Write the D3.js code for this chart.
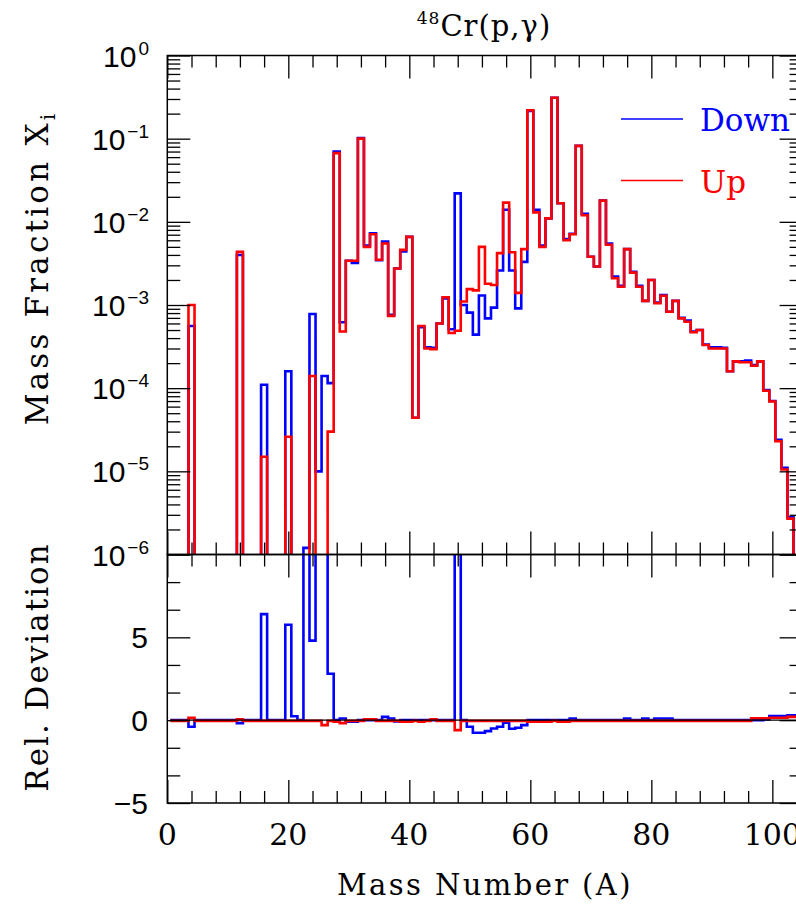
<!DOCTYPE html>
<html>
<head>
<meta charset="utf-8">
<script src="https://cdn.jsdelivr.net/npm/d3@7"></script>
<style>
body { margin: 0; background: #fff; }
svg { display: block; }
</style>
</head>
<body>
<div id="chart"></div>
<script>
// mass numbers A = 1..104, one bin per A
const massNumbers = d3.range(1, 105);

// mass fractions, null = not produced / below the plot
const downX = [
	null, null, null, 5.6e-4, null, null, null, null, null, null,
	null, 4.0e-3, null, null, null, 1.1e-4, null, null, null, 1.6e-4,
	null, null, 1.2e-6, 7.8e-4, 1.0e-5, 1.4e-4, 1.15e-4, 7.0e-2, 6.2e-4, 3.4e-3,
	3.2e-3, 0.102, 5.2e-3, 7.3e-3, 3.45e-3, 5.8e-3, 7.6e-4, 2.75e-3, 4.4e-3, 6.6e-3,
	4.4e-5, 5.4e-4, 3.1e-4, 3.05e-4, 6.0e-4, 1.2e-3, 5.1e-4, 2.2e-2, 1.0e-3, 8.1e-4,
	4.4e-4, 1.3e-3, 6.9e-4, 9.3e-4, 2.6e-3, 1.4e-2, 2.6e-3, 9.1e-4, 3.3e-3, 0.215,
	1.4e-2, 5.2e-3, 1.1e-2, 0.31, 1.67e-2, 6.2e-3, 7.2e-3, 8.2e-2, 1.25e-2, 3.8e-3,
	2.9e-3, 1.8e-2, 5.5e-3, 2.2e-3, 1.7e-3, 4.7e-3, 2.5e-3, 1.7e-3, 1.12e-3, 2.0e-3,
	1.07e-3, 1.32e-3, 8.3e-4, 1.12e-3, 7.0e-4, 6.5e-4, 4.8e-4, 5.0e-4, 3.35e-4, 3.1e-4,
	3.1e-4, 3.05e-4, 1.6e-4, 2.1e-4, 2.1e-4, 2.15e-4, 1.9e-4, 2.1e-4, 9.5e-5, 7.0e-5,
	2.4e-5, 1.1e-5, 2.8e-6, 6e-7
];

const upX = [
	null, null, null, 1.0e-3, null, null, null, null, null, null,
	null, 4.35e-3, null, null, null, 1.5e-5, null, null, null, 2.6e-5,
	null, null, null, 1.4e-4, null, null, 3.0e-5, 6.7e-2, 4.8e-4, 3.4e-3,
	3.4e-3, 0.10, 5.0e-3, 7.1e-3, 3.5e-3, 5.5e-3, 7.4e-4, 2.75e-3, 4.6e-3, 6.6e-3,
	4.4e-5, 5.6e-4, 3.0e-4, 2.95e-4, 6.0e-4, 1.24e-3, 4.6e-4, 4.9e-4, 1.1e-3, 1.55e-3,
	1.5e-3, 5.0e-3, 1.8e-3, 1.74e-3, 4.2e-3, 1.7e-2, 4.3e-3, 1.4e-3, 4.7e-3, 0.22,
	1.3e-2, 5.0e-3, 1.1e-2, 0.31, 1.67e-2, 6.0e-3, 7.1e-3, 8.2e-2, 1.2e-2, 3.8e-3,
	2.9e-3, 1.8e-2, 5.3e-3, 2.1e-3, 1.66e-3, 4.7e-3, 2.45e-3, 1.66e-3, 1.12e-3, 2.0e-3,
	1.05e-3, 1.29e-3, 8.3e-4, 1.12e-3, 6.9e-4, 6.3e-4, 4.7e-4, 5.0e-4, 3.3e-4, 3.0e-4,
	3.0e-4, 3.0e-4, 1.6e-4, 2.1e-4, 2.05e-4, 2.05e-4, 1.86e-4, 2.1e-4, 9.3e-5, 6.9e-5,
	2.3e-5, 1.05e-5, 2.7e-6, 5e-7
];

// relative deviation from the base run (off-scale peaks read as 50)
const devDown = [
	0, 0, 0, -0.4, 0, 0, 0, 0, 0, 0,
	0, -0.18, 0, 0, 0, 6.4, 0, 0, 0, 5.76,
	0.24, 0, 50, 4.8, 50, 50, 2.8, 0, 0.1, -0.1,
	-0.1, 0, 0, 0, 0, 0.2, 0.1, -0.07, 0, 0,
	0, 0, 0, 0, 0, 0, 0, 50, 0, -0.4,
	-0.76, -0.76, -0.66, -0.5, -0.4, -0.16, -0.52, -0.46, -0.3, 0,
	0, 0, 0, 0, 0, 0, 0.1, 0, 0, 0,
	0, 0, 0, 0, 0, 0.1, 0, 0, 0.1, 0,
	0.1, 0.1, 0.1, 0, 0, 0, 0, 0, 0, 0,
	0, 0, 0, 0, 0, 0, 0, 0, 0.05, 0.25,
	0.25, 0.25, 0.3, 0.3
];

const devUp = [
	-0.04, -0.04, -0.04, 0.14, -0.04, -0.04, -0.04, -0.04, -0.04, -0.04,
	-0.04, 0.05, -0.04, -0.04, -0.04, -0.04, -0.04, -0.04, -0.04, -0.04,
	-0.04, -0.04, -0.04, -0.04, -0.04, -0.3, -0.04, -0.1, -0.18, -0.04,
	-0.04, -0.04, 0.05, 0.05, -0.04, -0.04, -0.04, -0.04, -0.1, -0.1,
	-0.04, -0.1, -0.04, 0.05, -0.04, -0.04, -0.04, -0.6, -0.04, -0.04,
	-0.04, -0.04, -0.04, -0.04, -0.04, -0.04, -0.04, -0.04, -0.04, -0.1,
	-0.1, -0.1, -0.1, -0.04, -0.1, -0.1, -0.04, -0.04, -0.04, -0.04,
	-0.04, -0.04, -0.04, -0.04, -0.04, -0.04, -0.04, -0.04, -0.04, -0.04,
	-0.04, -0.04, -0.04, -0.04, -0.04, -0.04, -0.04, -0.04, -0.04, -0.04,
	-0.04, -0.04, -0.04, -0.04, -0.04, -0.04, 0.12, 0.12, 0.12, 0.15,
	0.15, 0.15, 0.2, 0.2
];

const xTickLabels = [0, 20, 40, 60, 80, 100];
const logDecades = [-6, -5, -4, -3, -2, -1, 0];
const devTickLabels = [-5, 0, 5];

const W = 796, H = 905;
const pLeft = 167.3, pRight = 802.6, pTop = 55.5, pMid = 554.5, pBottom = 803;

const x = d3.scaleLinear().domain([0, 105]).range([pLeft, pRight]);
const yTop = d3.scaleLog().domain([1e-6, 1]).range([pMid, pTop]);
const yDev = d3.scaleLinear().domain([-5, 10]).range([pBottom, pMid]);

const svg = d3.select("#chart")
	.append("svg")
	.attr("width", W)
	.attr("height", H)
	.style("font-family", "'DejaVu Serif', serif");

const defs = svg.append("defs");
defs.append("clipPath").attr("id", "clipTop")
	.append("rect").attr("x", pLeft).attr("y", pTop).attr("width", pRight - pLeft).attr("height", pMid - pTop);
defs.append("clipPath").attr("id", "clipDev")
	.append("rect").attr("x", pLeft).attr("y", pMid).attr("width", pRight - pLeft).attr("height", pBottom - pMid);

function steps(values, fallback) {
	const pts = [];
	values.forEach((v, i) => {
		const a = massNumbers[i];
		const val = v == null ? fallback : v;
		pts.push([a - 0.5, val], [a + 0.5, val]);
	});
	return pts;
}

const lineTop = d3.line().x((d) => x(d[0])).y((d) => yTop(d[1]));
const lineDev = d3.line().x((d) => x(d[0])).y((d) => yDev(d[1]));

// top panel histograms
const gTop = svg.append("g").attr("clip-path", "url(#clipTop)");
gTop.append("path").attr("d", lineTop(steps(downX, 1e-9)))
	.attr("fill", "none").attr("stroke", "#0000ff").attr("stroke-width", 2.6);
gTop.append("path").attr("d", lineTop(steps(upX, 1e-9)))
	.attr("fill", "none").attr("stroke", "#ff0000").attr("stroke-width", 2.6);

// deviation panel
const gDev = svg.append("g").attr("clip-path", "url(#clipDev)");
gDev.append("path").attr("d", lineDev(steps(devDown, 0)))
	.attr("fill", "none").attr("stroke", "#0000ff").attr("stroke-width", 2.6);
gDev.append("path").attr("d", lineDev(steps(devUp, 0)))
	.attr("fill", "none").attr("stroke", "#ff0000").attr("stroke-width", 2.6);
gDev.append("path").attr("d", lineDev(steps(massNumbers.map(() => 0), 0)))
	.attr("fill", "none").attr("stroke", "#000").attr("stroke-width", 1.2);

// tick marks (inward on all four sides of both panels)
function tickGroup(axis, tx, ty, size, values) {
	const g = svg.append("g")
		.attr("transform", `translate(${tx},${ty})`)
		.call(axis.tickValues(values).tickSize(-size).tickFormat(""));
	g.select(".domain").remove();
	g.selectAll("line").attr("stroke", "#000").attr("stroke-width", 1.3);
}

const xMajor = d3.range(0, 106, 20);
const xMinor = d3.range(0, 106, 4).filter((v) => v % 20 !== 0);
const logMajor = logDecades.map((d) => Math.pow(10, d));
const logMinor = [];
logDecades.slice(0, -1).forEach((d) => {
	for (let k = 2; k <= 9; k++) logMinor.push(k * Math.pow(10, d));
});
const devMajor = [-5, 0, 5, 10];
const devMinor = d3.range(0, 10).map((k) => -5 + (5 / 3) * k).filter((v, k) => k % 3 !== 0);

[[pTop, d3.axisTop], [pMid, d3.axisBottom], [pMid, d3.axisTop], [pBottom, d3.axisBottom]].forEach(([yy, ax]) => {
	tickGroup(ax(x), 0, yy, 23, xMajor);
	tickGroup(ax(x), 0, yy, 12, xMinor);
});
[[pLeft, d3.axisLeft], [pRight, d3.axisRight]].forEach(([xx, ax]) => {
	tickGroup(ax(yTop), xx, 0, 23, logMajor);
	tickGroup(ax(yTop), xx, 0, 13, logMinor);
	tickGroup(ax(yDev), xx, 0, 23, devMajor);
	tickGroup(ax(yDev), xx, 0, 13, devMinor);
});

// frames
[[pTop, pMid], [pMid, pBottom]].forEach(([y0, y1]) => {
	svg.append("rect")
		.attr("x", pLeft).attr("y", y0)
		.attr("width", pRight - pLeft).attr("height", y1 - y0)
		.attr("fill", "none").attr("stroke", "#000").attr("stroke-width", 1.5);
});

// x tick labels
svg.append("g")
	.selectAll("text")
	.data(xTickLabels)
	.enter()
	.append("text")
	.attr("x", (d) => x(d))
	.attr("y", 845)
	.attr("text-anchor", "middle")
	.attr("font-size", 30)
	.text((d) => d);

// log labels 10^n
const logLabels = svg.append("g")
	.style("font-family", "'Liberation Sans', Arial, sans-serif")
	.selectAll("text")
	.data(logDecades)
	.enter()
	.append("text")
	.attr("x", 149)
	.attr("y", (d) => yTop(Math.pow(10, d)) + 11)
	.attr("text-anchor", "end")
	.attr("font-size", 30);
logLabels.append("tspan").text("10");
logLabels.append("tspan")
	.attr("dy", -12)
	.attr("dx", 2)
	.attr("font-size", 19)
	.text((d) => (d < 0 ? "\u2212" + -d : d));

// deviation labels
svg.append("g")
	.style("font-family", "'Liberation Sans', Arial, sans-serif")
	.selectAll("text")
	.data(devTickLabels)
	.enter()
	.append("text")
	.attr("x", 148)
	.attr("y", (d) => yDev(d) + 11)
	.attr("text-anchor", "end")
	.attr("font-size", 30)
	.text((d) => (d < 0 ? "\u2212" + -d : d));

// axis titles
svg.append("text")
	.attr("x", (pLeft + pRight) / 2)
	.attr("y", 895)
	.attr("text-anchor", "middle")
	.attr("font-size", 29)
	.attr("letter-spacing", 2.4)
	.text("Mass Number (A)");

const yt = svg.append("text")
	.attr("transform", "translate(48,268) rotate(-90)")
	.attr("text-anchor", "middle")
	.attr("font-size", 31)
	.attr("letter-spacing", 3.2);
yt.append("tspan").text("Mass Fraction X");
yt.append("tspan").attr("font-size", 20).attr("dy", 7).text("i");

svg.append("text")
	.attr("transform", "translate(48,667) rotate(-90)")
	.attr("text-anchor", "middle")
	.attr("font-size", 31)
	.attr("letter-spacing", 2)
	.text("Rel. Deviation");

// title
const title = svg.append("text")
	.attr("x", 484)
	.attr("y", 36)
	.attr("text-anchor", "middle")
	.attr("font-size", 29)
	.attr("letter-spacing", 1);
title.append("tspan").attr("font-size", 17).attr("dy", -12).text("48");
title.append("tspan").attr("dy", 12).text("Cr(p,\u03b3)");

// legend
const legend = [
	{ name: "Down", color: "#0000ff", y: 119 },
	{ name: "Up", color: "#ff0000", y: 180.5 }
];
const lg = svg.append("g").selectAll("g").data(legend).enter().append("g");
lg.append("line")
	.attr("x1", 621).attr("x2", 683)
	.attr("y1", (d) => d.y).attr("y2", (d) => d.y)
	.attr("stroke", (d) => d.color).attr("stroke-width", 1.5);
lg.append("text")
	.attr("x", 700)
	.attr("y", (d) => d.y + 12)
	.attr("font-size", 31)
	.attr("fill", (d) => d.color)
	.text((d) => d.name);
</script>
</body>
</html>
